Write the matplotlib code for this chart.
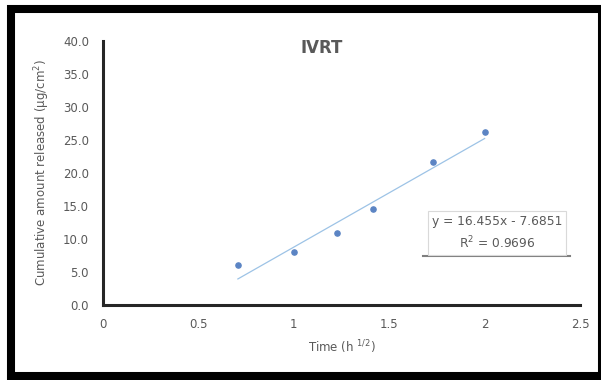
import numpy as np
import matplotlib.pyplot as plt
from matplotlib.patches import Rectangle

# time (h^1/2) and cumulative amount released (ug/cm2)
time_sqrt = [0.707, 1.0, 1.225, 1.414, 1.732, 2.0]
released = [6.1, 8.0, 10.9, 14.5, 21.6, 26.2]
slope = 16.455
intercept = -7.6851
r2 = 0.9696

xticks = [0, 0.5, 1, 1.5, 2, 2.5]
xticklabels = ['0', '0.5', '1', '1.5', '2', '2.5']
yticks = [0, 5, 10, 15, 20, 25, 30, 35, 40]

grey = '#595959'
fig = plt.figure(figsize=(6.01, 3.80), dpi=100)
ax = fig.add_axes([103/601, 75/380, 477/601, 264/380])

# trendline over the data range
fit_x = np.array([min(time_sqrt), max(time_sqrt)])
ax.plot(fit_x, slope * fit_x + intercept, color='#9dc3e6', linewidth=0.9, zorder=2)
ax.scatter(time_sqrt, released, s=14, color='#5b84c4', zorder=3)

ax.set_xlim(0, 2.5)
ax.set_ylim(0, 40)
ax.set_xticks(xticks)
ax.set_xticklabels(xticklabels)
ax.set_yticks(yticks)
ax.set_yticklabels(['%.1f' % v for v in yticks])
ax.tick_params(length=0, labelsize=8.5, labelcolor=grey, pad=9)
ax.tick_params(axis='y', pad=10)

for s in ['top', 'right']:
    ax.spines[s].set_visible(False)
for s in ['left', 'bottom']:
    ax.spines[s].set_linewidth(2.2)
    ax.spines[s].set_color('#262626')

ax.set_xlabel('Time (h $^{1/2}$)', fontsize=8.5, color=grey, labelpad=6)
ax.set_ylabel('Cumulative amount released (\u03bcg/cm$^{2}$)', fontsize=8.5, color=grey, labelpad=8)

fig.text(322/601, 1 - 48/380, 'IVRT', fontsize=12, fontweight='bold', color=grey,
         ha='center', va='center')

# equation box
fig.text(497/601, 1 - 233/380, 'y = 16.455x - 7.6851\nR$^{2}$ = 0.9696', fontsize=8.8,
         color=grey, ha='center', va='center', linespacing=1.45,
         bbox=dict(boxstyle='square,pad=0.35', facecolor='white', edgecolor='#d9d9d9', linewidth=0.8))
fig.add_artist(plt.Line2D([423/601, 570/601], [1 - 256/380, 1 - 256/380], color='#7f7f7f',
                          linewidth=1.5, transform=fig.transFigure))

# black frame around the picture
fig.add_artist(Rectangle((11/601, 4/380), 591/601, 367/380, transform=fig.transFigure,
                         fill=False, edgecolor='black', linewidth=5.8))

plt.savefig('out.png', dpi=100)
